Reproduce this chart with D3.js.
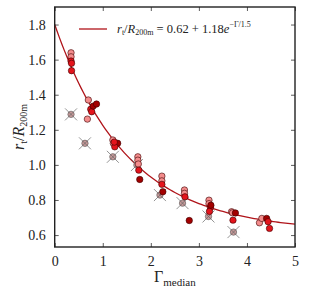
<!DOCTYPE html>
<html>
<head>
<meta charset="utf-8">
<script src="https://cdn.jsdelivr.net/npm/d3@7"></script>
<style>
  body { margin: 0; background: #fff; }
  text { font-family: "Liberation Serif", "DejaVu Serif", serif; fill: #222; }
</style>
</head>
<body>
<svg id="chart" width="311" height="302"></svg>
<script>
// measured points: Gamma_median, r_t/R_200m, shade (0 light, 1 red, 2 dark)
const gamma = [0.34, 0.34, 0.34, 0.35, 0.35,
  0.70, 0.68, 0.75, 0.77, 0.80, 0.87,
  1.21, 1.22, 1.31, 1.25, 1.24,
  1.73, 1.73, 1.74, 1.75, 1.77,
  2.23, 2.23, 2.23, 2.25,
  2.70, 2.70, 2.71, 2.80,
  3.21, 3.21, 3.24, 3.22, 3.25,
  3.68, 3.70, 3.76, 3.71,
  4.26, 4.31, 4.41, 4.44, 4.47]
const ratio = [1.639, 1.616, 1.592, 1.579, 1.537,
  1.370, 1.261, 1.317, 1.303, 1.335, 1.347,
  1.142, 1.123, 1.123, 1.103, 1.130,
  1.046, 1.027, 1.005, 0.970, 0.917,
  0.936, 0.909, 0.889, 0.847,
  0.857, 0.838, 0.818, 0.683,
  0.799, 0.779, 0.757, 0.735, 0.770,
  0.733, 0.727, 0.726, 0.685,
  0.670, 0.695, 0.695, 0.676, 0.638]
const shade = [0, 0, 1, 1, 1,
  0, 0, 1, 1, 2, 2,
  0, 0, 2, 1, 1,
  0, 0, 0, 1, 2,
  0, 0, 1, 2,
  0, 0, 1, 2,
  0, 0, 1, 1, 2,
  0, 0, 2, 1,
  0, 0, 2, 1, 1]

// crossed-out points
const crossGamma = [0.34, 0.63, 1.21, 1.71, 2.19, 2.66, 3.20, 3.72]
const crossRatio = [1.288, 1.123, 1.046, 0.999, 0.828, 0.782, 0.706, 0.617]

const xTicks = [0, 1, 2, 3, 4, 5]
const yTicks = [0.6, 0.8, 1.0, 1.2, 1.4, 1.6, 1.8]

// fit: 0.62 + 1.18 exp(-G/1.5)
const fitA = 0.62, fitB = 1.18, fitS = 1.5

const shadeColors = ['#f48c8c', '#e4141c', '#a30000']

const margin = { top: 7, right: 16, bottom: 55, left: 54.7 }
const width = 311 - margin.left - margin.right
const height = 302 - margin.top - margin.bottom

const svg = d3.select('#chart')
const main = svg.append('g')
  .attr('transform', `translate(${margin.left},${margin.top})`)

const x = d3.scaleLinear().domain([0, 5]).range([0, width])
const y = d3.scaleLinear().domain([0.532, 1.9]).range([height, 0])

main.append('defs').append('clipPath').attr('id', 'clip')
  .append('rect').attr('width', width).attr('height', height)

const plot = main.append('g').attr('clip-path', 'url(#clip)')

// fit curve
const curvePts = d3.range(0, 5.001, 0.05).map(g => [g, fitA + fitB * Math.exp(-g / fitS)])
plot.append('path')
  .attr('fill', 'none')
  .attr('stroke', '#b0141a')
  .attr('stroke-width', 1.3)
  .attr('d', d3.line().x(d => x(d[0])).y(d => y(d[1]))(curvePts))

// crossed points
const cross = plot.append('g').attr('class', 'cross')
  .selectAll('g')
  .data(crossGamma.map((g, i) => ({ g, r: crossRatio[i] })))
  .join('g')
  .attr('transform', d => `translate(${x(d.g)},${y(d.r)})`)
cross.append('circle')
  .attr('r', 3.2)
  .attr('fill', '#c79898')
  .attr('stroke', '#555')
  .attr('stroke-width', 0.6)
cross.append('path')
  .attr('d', 'M-6,-6L6,6M-6,6L6,-6')
  .attr('stroke', '#666')
  .attr('stroke-width', 0.7)

// data points
plot.append('g').attr('class', 'points')
  .selectAll('circle')
  .data(gamma.map((g, i) => ({ g, r: ratio[i], s: shade[i] })))
  .join('circle')
  .attr('cx', d => x(d.g))
  .attr('cy', d => y(d.r))
  .attr('r', 3.2)
  .attr('fill', d => shadeColors[d.s])
  .attr('stroke', '#3a0000')
  .attr('stroke-width', 0.6)

// axes with inward ticks
const tickLen = 4
const axes = [
  { ax: d3.axisBottom(x).tickValues(xTicks).tickFormat(d3.format('d')), t: `translate(0,${height})`, labels: true },
  { ax: d3.axisTop(x).tickValues(xTicks), t: 'translate(0,0)', labels: false },
  { ax: d3.axisLeft(y).tickValues(yTicks).tickFormat(d3.format('.1f')), t: 'translate(0,0)', labels: true },
  { ax: d3.axisRight(y).tickValues(yTicks), t: `translate(${width},0)`, labels: false }
]
axes.forEach(a => {
  a.ax.tickSizeInner(-tickLen).tickSizeOuter(0).tickPadding(9)
  const g = main.append('g').attr('transform', a.t).call(a.ax)
  g.attr('font-family', null)
  g.select('.domain').remove()
  g.selectAll('.tick line').attr('stroke', '#333').attr('stroke-width', 0.8)
  g.selectAll('.tick text')
    .attr('font-size', 14)
    .attr('fill', '#222')
  if (!a.labels) g.selectAll('.tick text').remove()
})

// frame
main.append('rect')
  .attr('width', width)
  .attr('height', height)
  .attr('fill', 'none')
  .attr('stroke', '#222')
  .attr('stroke-width', 1.4)

// axis labels
const xl = svg.append('text')
  .attr('x', margin.left + width / 2)
  .attr('y', 282)
  .attr('text-anchor', 'middle')
  .attr('font-size', 16)
xl.append('tspan').text('Γ')
xl.append('tspan').attr('font-size', 11).attr('dy', 4).text('median')

const yl = svg.append('text')
  .attr('transform', `translate(24,${margin.top + height / 2}) rotate(-90)`)
  .attr('text-anchor', 'middle')
  .attr('font-size', 16)
yl.append('tspan').attr('font-style', 'italic').text('r')
yl.append('tspan').attr('font-size', 10).attr('dy', 3).text('t')
yl.append('tspan').attr('dy', -3).text('/')
yl.append('tspan').attr('font-style', 'italic').text('R')
yl.append('tspan').attr('font-size', 10).attr('dy', 3).text('200m')

// legend
const leg = svg.append('g')
leg.append('line')
  .attr('x1', 79).attr('x2', 107)
  .attr('y1', 29).attr('y2', 29)
  .attr('stroke', '#b0141a')
  .attr('stroke-width', 1.3)
const lt = leg.append('text')
  .attr('x', 117)
  .attr('y', 33)
  .attr('font-size', 12.5)
lt.append('tspan').attr('font-style', 'italic').text('r')
lt.append('tspan').attr('font-size', 8).attr('dy', 2).text('t')
lt.append('tspan').attr('dy', -2).text('/')
lt.append('tspan').attr('font-style', 'italic').text('R')
lt.append('tspan').attr('font-size', 8).attr('dy', 2).text('200m')
lt.append('tspan').attr('dy', -2).text(' = 0.62 + 1.18')
lt.append('tspan').attr('font-style', 'italic').text('e')
lt.append('tspan').attr('font-size', 8).attr('dy', -6).text('−Γ/1.5')
</script>
</body>
</html>
